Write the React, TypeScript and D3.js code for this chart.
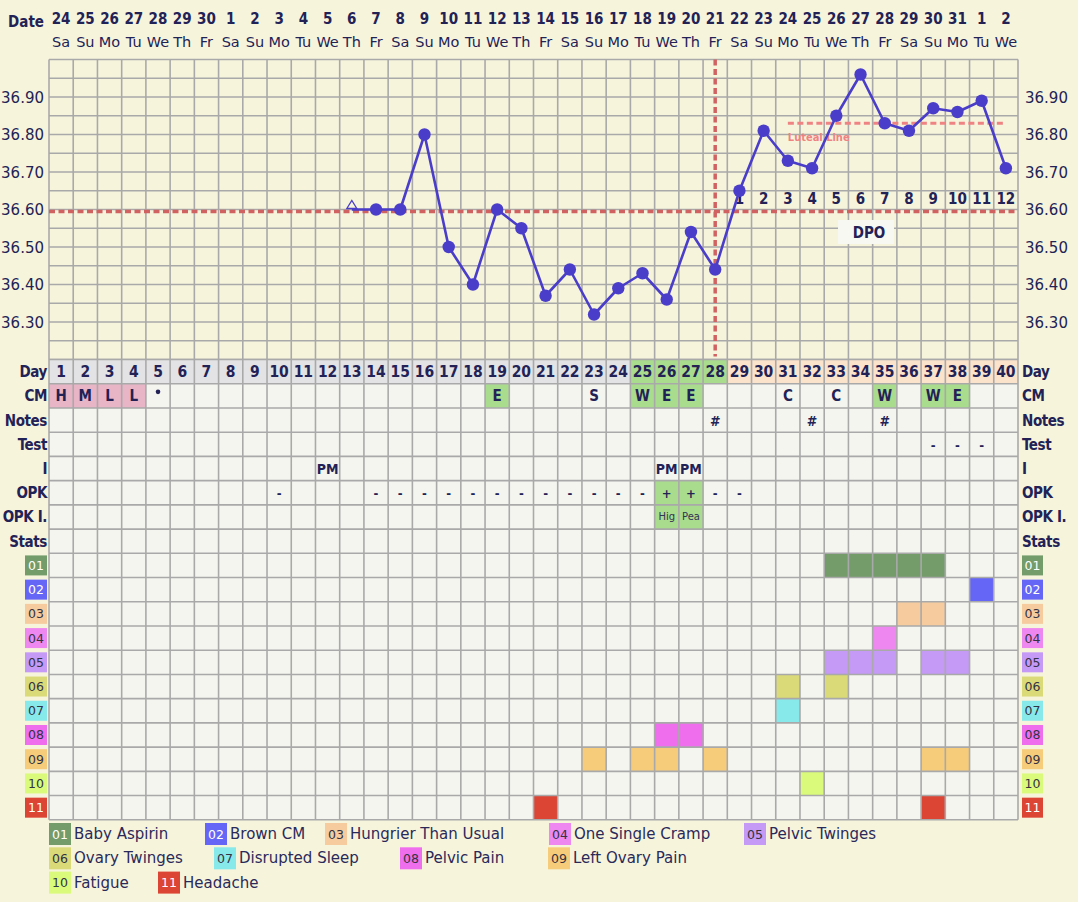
import React from "react";
import * as d3 from "d3";

// ---------- DATA ----------
const cycleDays = d3.range(1, 41);
const dates = [24, 25, 26, 27, 28, 29, 30, 1, 2, 3, 4, 5, 6, 7, 8, 9, 10, 11, 12, 13, 14, 15, 16, 17, 18, 19, 20, 21, 22, 23, 24, 25, 26, 27, 28, 29, 30, 31, 1, 2];
const weekdays = ["Sa", "Su", "Mo", "Tu", "We", "Th", "Fr", "Sa", "Su", "Mo", "Tu", "We", "Th", "Fr", "Sa", "Su", "Mo", "Tu", "We", "Th", "Fr", "Sa", "Su", "Mo", "Tu", "We", "Th", "Fr", "Sa", "Su", "Mo", "Tu", "We", "Th", "Fr", "Sa", "Su", "Mo", "Tu", "We"];
// temperatures by cycle day (null = none)
const temps: (number | null)[] = [
  null, null, null, null, null, null, null, null, null, null, null, null,
  36.60, 36.60, 36.60, 36.80, 36.50, 36.40, 36.60, 36.55, 36.37, 36.44, 36.32, 36.39,
  36.43, 36.36, 36.54, 36.44, 36.65, 36.81, 36.73, 36.71, 36.85, 36.96, 36.83, 36.81,
  36.87, 36.86, 36.89, 36.71,
];
const triangleDays = [13];
const yTicks = [36.3, 36.4, 36.5, 36.6, 36.7, 36.8, 36.9];
const coverline = 36.595;
const ovulationDay = 28;
const lutealLine = 36.83;
const lutealStart = 31;
const dpoLabels = [1, 2, 3, 4, 5, 6, 7, 8, 9, 10, 11, 12];
const dpoStartDay = 29;

const rowLabels = ["Day", "CM", "Notes", "Test", "I", "OPK", "OPK I.", "Stats"];
const cmValues: Record<number, string> = { 1: "H", 2: "M", 3: "L", 4: "L", 19: "E", 23: "S", 25: "W", 26: "E", 27: "E", 31: "C", 33: "C", 35: "W", 37: "W", 38: "E" };
const cmDotDays = [5];
const cmPinkDays = [1, 2, 3, 4];
const cmGreenDays = [19, 25, 26, 27, 35, 37, 38];
const notesValues: Record<number, string> = { 28: "#", 32: "#", 35: "#" };
const testValues: Record<number, string> = { 37: "-", 38: "-", 39: "-" };
const iValues: Record<number, string> = { 12: "PM", 26: "PM", 27: "PM" };
const opkValues: Record<number, string> = { 10: "-", 14: "-", 15: "-", 16: "-", 17: "-", 18: "-", 19: "-", 20: "-", 21: "-", 22: "-", 23: "-", 24: "-", 25: "-", 26: "+", 27: "+", 28: "-", 29: "-" };
const opkGreenDays = [26, 27];
const opkIValues: Record<number, string> = { 26: "Hig", 27: "Pea" };
const fertileDays = [25, 26, 27, 28];

const symptomIds = ["01", "02", "03", "04", "05", "06", "07", "08", "09", "10", "11"];
const symptomNames = ["Baby Aspirin", "Brown CM", "Hungrier Than Usual", "One Single Cramp", "Pelvic Twinges", "Ovary Twinges", "Disrupted Sleep", "Pelvic Pain", "Left Ovary Pain", "Fatigue", "Headache"];
const symptomColors = ["#739c6a", "#6666f6", "#f6cc9f", "#ee88f0", "#c59af6", "#dada78", "#88e9ea", "#ee6eee", "#f6cc7a", "#d9fa7a", "#dc4434"];
const symptomTextLight = [true, true, false, false, false, false, false, false, false, false, true];
const symptomDays = [
  [33, 34, 35, 36, 37],
  [39],
  [36, 37],
  [35],
  [33, 34, 35, 37, 38],
  [31, 33],
  [31],
  [26, 27],
  [23, 25, 26, 28, 37, 38],
  [32],
  [21, 37],
];
// legend layout: [row, x]
const legendLayout: [number, number][] = [
  [0, 49], [0, 205], [0, 325], [0, 549], [0, 744],
  [1, 49], [1, 214], [1, 400], [1, 548],
  [2, 49], [2, 158],
];

// ---------- STYLE ----------
const BG = "#f7f4dc";
const CELL = "#f5f5f0";
const GRID = "#a9a9a9";
const INK = "#222256";
const LINE = "#4a3dc9";
const RED = "#d06262";
const FONT = "'DejaVu Sans', Verdana, sans-serif";
const BFONT = "'DejaVu Sans Condensed', 'DejaVu Sans', sans-serif";

export default function App() {
  const W = 1078, H = 902;
  const X0 = 49, X1 = 1018;
  const TT = 59.5, TB = 359.5;
  const x = d3.scaleBand<number>().domain(cycleDays).range([X0, X1]);
  const cw = x.bandwidth();
  const cx = (d: number) => (x(d) as number) + cw / 2;
  const yT = d3.scaleLinear().domain([36.2, 37.0]).range([TB, TT]);
  const nRows = rowLabels.length + symptomIds.length;
  const yR = d3.scaleBand<number>().domain(d3.range(nRows)).range([TB, TB + nRows * cw]);
  const rh = yR.bandwidth();
  const ry = (r: number) => yR(r) as number;
  const rc = (r: number) => ry(r) + rh / 2;

  const tempGrid = d3.range(0, 17).map((i) => 36.2 + i * 0.05);
  const pts = cycleDays.map((d, i) => ({ d, t: temps[i] })).filter((p) => p.t !== null) as { d: number; t: number }[];
  const line = d3.line<{ d: number; t: number }>().x((p) => cx(p.d)).y((p) => yT(p.t));

  const cellText = (vals: Record<number, string>, r: number, opts: any = {}) =>
    Object.keys(vals).map((k) => {
      const d = +k;
      return (
        <text key={`t${r}-${d}`} x={cx(d)} y={rc(r) + (opts.dy ?? 5.5)} textAnchor="middle" fontFamily={opts.font ?? BFONT} fontWeight={opts.weight ?? "bold"} fontSize={opts.size ?? 15} fill={opts.fill ?? INK}>
          {vals[d]}
        </text>
      );
    });

  const fillCells = (days: number[], r: number, color: string) =>
    days.map((d) => <rect key={`f${r}-${d}`} x={x(d)} y={ry(r)} width={cw} height={rh} fill={color} />);

  const gridBottom = ry(nRows - 1) + rh;

  return (
    <svg width={W} height={H} style={{ position: "absolute", left: 0, top: 0, background: BG }}>
      <rect x={0} y={0} width={W} height={H} fill={BG} />
      {/* header */}
      <text x={44} y={27} textAnchor="end" fontFamily={BFONT} fontWeight="bold" fontSize={15} fill={INK}>Date</text>
      {cycleDays.map((d, i) => (
        <g key={`h${d}`}>
          <text x={cx(d)} y={24} textAnchor="middle" fontFamily={BFONT} fontWeight="bold" fontSize={15} fill={INK}>{dates[i]}</text>
          <text x={cx(d)} y={47} textAnchor="middle" fontFamily={FONT} fontSize={14.5} fill={INK}>{weekdays[i]}</text>
        </g>
      ))}

      {/* temperature grid */}
      <rect x={X0} y={TT} width={X1 - X0} height={TB - TT} fill={BG} />
      {tempGrid.map((t, i) => (
        <line key={`hg${i}`} x1={X0} x2={X1} y1={yT(t)} y2={yT(t)} stroke={GRID} strokeWidth={1.6} />
      ))}
      {yTicks.map((t) => (
        <g key={`yt${t}`}>
          <text x={44} y={yT(t) + 5.5} textAnchor="end" fontFamily={FONT} fontSize={15} fill={INK}>{t.toFixed(2)}</text>
          <text x={1025} y={yT(t) + 5.5} textAnchor="start" fontFamily={FONT} fontSize={15} fill={INK}>{t.toFixed(2)}</text>
        </g>
      ))}

      {/* lower table backgrounds */}
      <rect x={X0} y={TB} width={X1 - X0} height={gridBottom - TB} fill={CELL} />
      {cycleDays.map((d) => (
        <rect key={`dr${d}`} x={x(d)} y={ry(0)} width={cw} height={rh} fill={fertileDays.includes(d) ? "#a9dc8d" : d >= dpoStartDay ? "#fbe2cb" : "#e3e3e5"} />
      ))}
      {fillCells(cmPinkDays, 1, "#e8b5c6")}
      {fillCells(cmGreenDays, 1, "#a9dc8d")}
      {fillCells(opkGreenDays, 5, "#a9dc8d")}
      {fillCells(opkGreenDays, 6, "#a9dc8d")}
      {symptomDays.map((days, s) => fillCells(days, rowLabels.length + s, symptomColors[s]))}

      {/* table horizontal lines */}
      {d3.range(nRows + 1).map((r) => (
        <line key={`rl${r}`} x1={X0} x2={X1} y1={TB + r * rh} y2={TB + r * rh} stroke={GRID} strokeWidth={1.6} />
      ))}
      {/* vertical grid lines */}
      {d3.range(41).map((i) => (
        <line key={`vg${i}`} x1={X0 + i * cw} x2={X0 + i * cw} y1={TT} y2={gridBottom} stroke={GRID} strokeWidth={1.6} />
      ))}

      {/* table texts */}
      {cycleDays.map((d) => (
        <text key={`dn${d}`} x={cx(d)} y={rc(0) + 5.5} textAnchor="middle" fontFamily={BFONT} fontWeight="bold" fontSize={15.5} fill={INK}>{d}</text>
      ))}
      {cellText(cmValues, 1)}
      {cmDotDays.map((d) => (
        <circle key={`cmdot${d}`} cx={cx(d)} cy={rc(1) - 4} r={2.3} fill={INK} />
      ))}
      {cellText(notesValues, 2, { size: 14 })}
      {cellText(testValues, 3, { size: 13 })}
      {cellText(iValues, 4, { size: 14 })}
      {cellText(opkValues, 5, { size: 13 })}
      {cellText(opkIValues, 6, { font: FONT, weight: "normal", size: 10, fill: "#333355", dy: 3.5 })}

      {/* row labels */}
      {rowLabels.map((l, r) => (
        <g key={`rl-${l}`}>
          <text x={47} y={rc(r) + 5.5} textAnchor="end" fontFamily={BFONT} fontWeight="bold" fontSize={15} letterSpacing={-0.4} fill={INK}>{l}</text>
          <text x={1022} y={rc(r) + 5.5} textAnchor="start" fontFamily={BFONT} fontWeight="bold" fontSize={15} letterSpacing={-0.4} fill={INK}>{l}</text>
        </g>
      ))}
      {symptomIds.map((id, s) => {
        const r = rowLabels.length + s;
        const tc = symptomTextLight[s] ? "#ffffff" : "#333344";
        return (
          <g key={`sl${id}`}>
            <rect x={25} y={rc(r) - 10} width={22} height={20} fill={symptomColors[s]} />
            <text x={36} y={rc(r) + 4.5} textAnchor="middle" fontFamily={FONT} fontSize={12.5} fill={tc}>{id}</text>
            <rect x={1022} y={rc(r) - 10} width={21} height={20} fill={symptomColors[s]} />
            <text x={1032.5} y={rc(r) + 4.5} textAnchor="middle" fontFamily={FONT} fontSize={12.5} fill={tc}>{id}</text>
          </g>
        );
      })}

      {/* coverline & ovulation */}
      <line x1={X0} x2={X1} y1={yT(coverline)} y2={yT(coverline)} stroke={RED} strokeWidth={3.5} strokeDasharray="6,3.5" />
      <line x1={cx(ovulationDay)} x2={cx(ovulationDay)} y1={TT} y2={TB - 3} stroke={RED} strokeWidth={3.5} strokeDasharray="6,3.5" />
      {/* luteal line */}
      <line x1={cx(lutealStart)} x2={cx(40)} y1={yT(lutealLine)} y2={yT(lutealLine)} stroke="#ef8282" strokeWidth={3.2} strokeDasharray="6,3.5" />
      <text x={cx(lutealStart)} y={yT(lutealLine) + 18} fontFamily={BFONT} fontWeight="bold" fontSize={11} fill="#ef8282">Luteal Line</text>

      {/* DPO */}
      {dpoLabels.map((n, i) => (
        <text key={`dpo${n}`} x={cx(dpoStartDay + i)} y={204} textAnchor="middle" fontFamily={BFONT} fontWeight="bold" fontSize={15} fill={INK}>{n}</text>
      ))}
      <rect x={838} y={220} width={56} height={24} fill="#f8f8f2" />
      <text x={869} y={238} textAnchor="middle" fontFamily={BFONT} fontWeight="bold" fontSize={15} fill={INK}>DPO</text>

      {/* temperature line */}
      <path d={line(pts) || ""} fill="none" stroke={LINE} strokeWidth={2.6} strokeLinejoin="round" />
      {pts.map((p) =>
        triangleDays.includes(p.d) ? (
          <path key={`p${p.d}`} d={`M${cx(p.d) - 5},${yT(p.t) - 1} L${cx(p.d)},${yT(p.t) - 9} L${cx(p.d) + 5},${yT(p.t) - 1} Z`} fill={BG} stroke={LINE} strokeWidth={1.3} />
        ) : (
          <circle key={`p${p.d}`} cx={cx(p.d)} cy={yT(p.t)} r={6.2} fill={LINE} />
        )
      )}

      {/* legend */}
      {symptomIds.map((id, s) => {
        const [row, lx] = legendLayout[s];
        const top = 823 + row * 24.3;
        const tc = symptomTextLight[s] ? "#ffffff" : "#333344";
        return (
          <g key={`lg${id}`}>
            <rect x={lx} y={top} width={22} height={22} fill={symptomColors[s]} />
            <text x={lx + 11} y={top + 15.5} textAnchor="middle" fontFamily={FONT} fontSize={12.5} fill={tc}>{id}</text>
            <text x={lx + 25} y={top + 16} fontFamily={FONT} fontSize={15} fill="#2a2a5a">{symptomNames[s]}</text>
          </g>
        );
      })}
    </svg>
  );
}
